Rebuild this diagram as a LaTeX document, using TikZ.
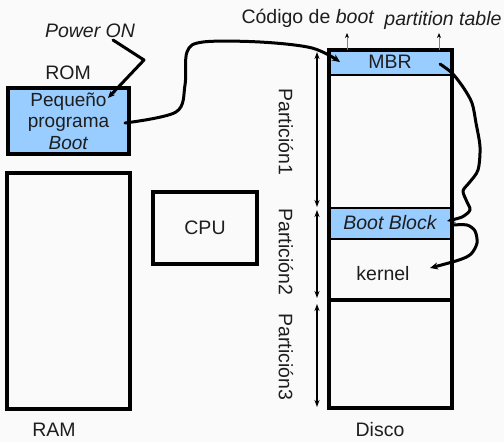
\documentclass[tikz,border=0pt]{standalone}
\usepackage{fontspec}
\setmainfont{Liberation Sans}
\usetikzlibrary{arrows.meta}
\definecolor{bg}{RGB}{250,250,250}
\definecolor{lblue}{RGB}{153,204,255}
\definecolor{txt}{RGB}{30,30,30}
\begin{document}
\begin{tikzpicture}[x=1pt,y=-1pt,
  lbl/.style={font=\fontsize{19.5pt}{22pt}\selectfont, text=txt, inner sep=0pt},
  ilbl/.style={lbl, font=\fontsize{19.5pt}{22pt}\selectfont\itshape},
  boxx/.style={draw=black, line width=3.2pt},
  fillbox/.style={draw=black, line width=2.2pt, fill=lblue},
  curve/.style={line width=3pt, -{Stealth[length=8pt,width=7pt]}, line cap=round, line join=round},
  part/.style={line width=2.4pt, {Stealth[length=7pt,width=5pt]}-{Stealth[length=7pt,width=5pt]}},
  thin/.style={draw=gray, line width=1pt, -{Stealth[length=5pt,width=4pt,black]}}
]
\fill[bg] (0,0) rectangle (504,442);
\useasboundingbox (0,0) rectangle (504,442);

% ROM
\node[lbl] (romlbl) at (68,73) {ROM};
\node[ilbl] (power) at (90,31) {Power ON};
\draw[boxx, fill=lblue] (8,88) rectangle (129,154);
\node[lbl, align=center, font=\fontsize{19pt}{21.5pt}\selectfont] (rom) at (68.5,121) {Pequeño\\programa\\\textit{Boot}};

% RAM
\draw[boxx] (7,173) rectangle (130,409);
\node[lbl] (ramlbl) at (54,430) {RAM};

% CPU
\draw[boxx] (153,192) rectangle (257,264);
\node[lbl] (cpu) at (205,228) {CPU};

% Disk
\draw[fillbox] (329,50) rectangle (452,75);
\draw[fillbox] (329,208) rectangle (452,239);
\draw[boxx] (329,50) rectangle (452,408);
\draw[boxx] (329,300) -- (452,300);
\draw[line width=2.2pt] (329,75) -- (452,75) (329,208) -- (452,208) (329,239) -- (452,239);
\node[lbl] (mbr) at (390,62) {MBR};
\node[ilbl] (bootblock) at (390,223) {Boot Block};
\node[lbl] (kernel) at (383,274) {kernel};
\node[lbl] (disco) at (380,430) {Disco};

% top labels
\node[lbl] (codigo) at (308,18) {Código de \textit{boot}};
\node[ilbl] (ptable) at (443,20) {partition table};
\coordinate (c1a) at (347,50); \coordinate (c1b) at (347,33);
\coordinate (c2a) at (439,50); \coordinate (c2b) at (439,33);
\draw[thin] (c1a) -- (c1b);
\draw[thin] (c2a) -- (c2b);

% partitions
\coordinate (p1t) at (317,52); \coordinate (p1b) at (317,207);
\coordinate (p2t) at (317,210); \coordinate (p2b) at (317,298);
\coordinate (p3t) at (317,304); \coordinate (p3b) at (317,407);
\draw[part] (p1t) -- (p1b);
\draw[part] (p2t) -- (p2b);
\draw[part] (p3t) -- (p3b);
\node[lbl, rotate=-90] (part1) at (286,132) {Partición1};
\node[lbl, rotate=-90] (part2) at (286,252) {Partición2};
\node[lbl, rotate=-90] (part3) at (286,357) {Partición3};

% connectors
\draw[curve, -{Stealth[length=7pt,width=6pt]}] (113,40) -- (144,60) -- (108,98);
\draw[curve] plot[smooth, tension=0.55] coordinates {(125,123) (176,112) (185,85) (187,52) (203,42) (260,42) (312,48) (340,62)};
\draw[curve] plot[smooth, tension=0.5] coordinates {(440,64) (452,73) (463,87) (472,103) (476,123) (480,147) (478,170) (469,183) (463,191) (467,202) (470,210) (462,217) (447,221)};
\draw[curve] plot[smooth, tension=0.5] coordinates {(453,225) (467,225) (475,231) (477,243) (471,254) (459,260) (430,268)};
\end{tikzpicture}
\end{document}
